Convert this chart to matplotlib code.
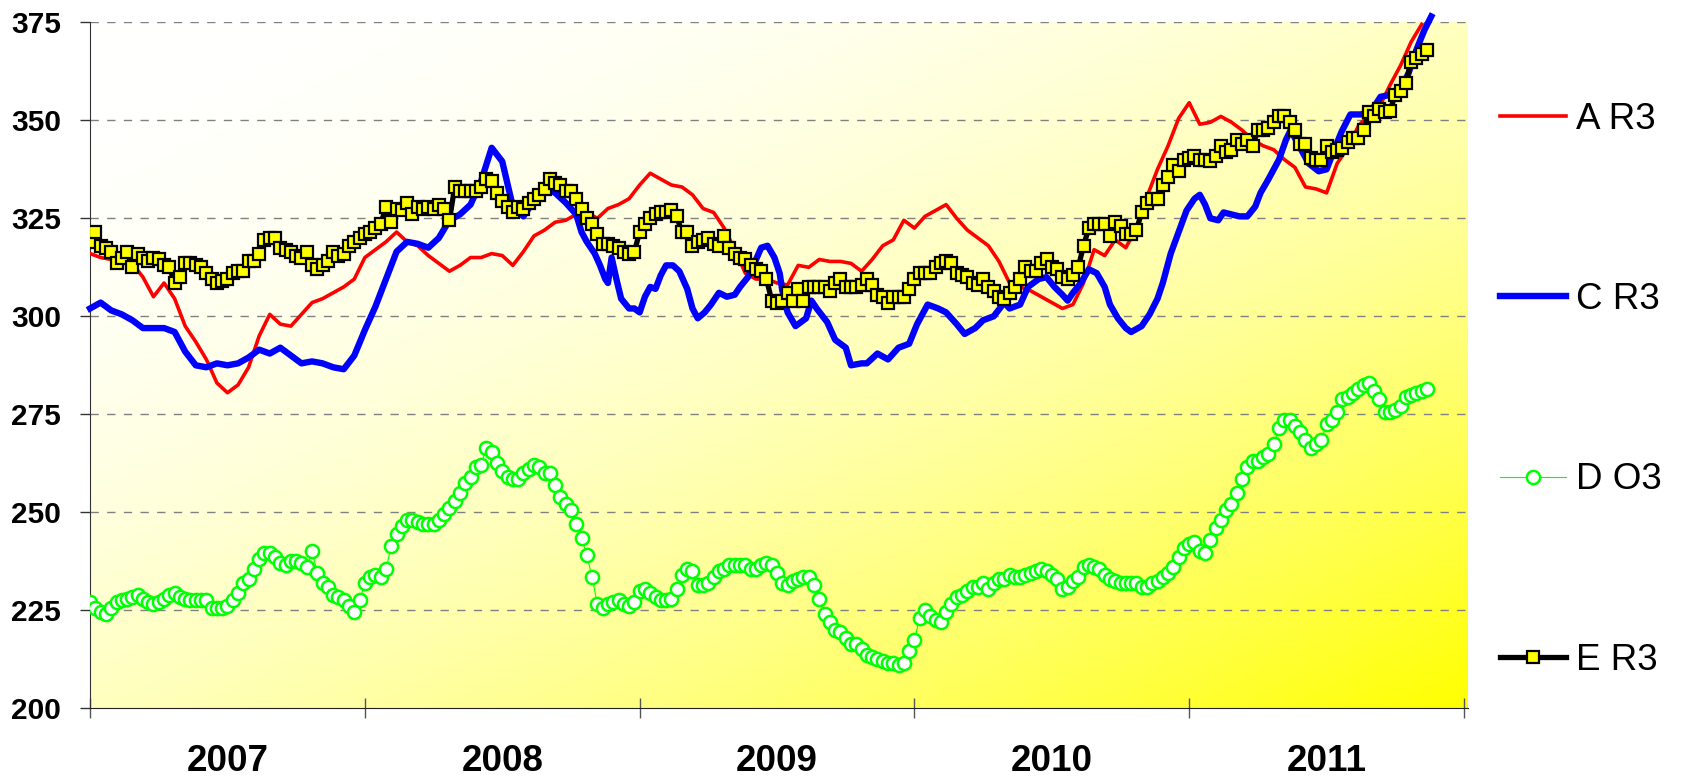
import numpy as np
import matplotlib
matplotlib.use('Agg')
import matplotlib.pyplot as plt

plt.rcParams['font.family'] = ['Liberation Sans', 'DejaVu Sans']

# weekly index, 52 weeks per year starting at first week of 2007
anos = ['2007', '2008', '2009', '2010', '2011']
semanasAno = 52

# A R3 - every second week
aSemanas = list(range(0, 253, 2))
aR3 = [316, 315, 314.5, 314, 313.5, 310, 305, 308.5, 304.5, 297.5, 293.5, 289, 283, 280.5, 282.5, 287, 295, 300.5, 298, 297.5, 300.5, 303.5,
       304.5, 306, 307.5, 309.5, 315, 317, 319, 321.5, 319, 318, 315.5, 313.5, 311.5, 313, 315, 315, 316, 315.5, 313, 316.5, 320.5, 322,
       324, 324.5, 326, 326.5, 325, 327.5, 328.5, 330, 333.5, 336.5, 335, 333.5, 333, 331, 327.5, 326.5, 322.5, 317, 311, 309.5, 309.5, 308.5,
       308, 313, 312.5, 314.5, 314, 314, 313.5, 311.5, 314.5, 318, 319.5, 324.5, 322.5, 325.5, 327, 328.5, 325, 322, 320, 318, 314, 308.5,
       307.5, 306.5, 305, 303.5, 302, 303, 308.5, 317, 315.5, 319.5, 317.5, 322.5, 330.5, 337.5, 343.5, 350.5, 354.5, 349, 349.5, 351, 349.5,
       347.5, 345, 343.5, 342.5, 340, 338, 333, 332.5, 331.5, 339, 343, 348.5, 351.5, 353.5, 359, 364, 370, 374.5]

# C R3 - irregular reading points (week, value)
cSemanas = [0, 2, 4, 6, 8, 10, 12, 14, 16, 18, 20, 22, 24, 26, 28, 30, 32, 34, 36, 38, 40, 42, 44, 46, 48, 50, 52, 54, 56, 58,
            60, 62, 64, 66, 68, 70, 72, 74, 76, 78, 80, 82, 84, 86, 88, 90, 92, 93, 94, 95.5, 96.5, 97.5, 98, 98.7, 99.6, 100.5,
            102, 103, 104, 105, 106, 107, 108, 109, 110.3, 111.5, 113, 114, 115, 116.3, 117.5, 119, 120.5, 122, 123, 124.5, 125.7,
            127, 128.2, 129.5, 130.5, 131, 132, 133.5, 135.5, 136.5, 137.5, 139.5, 141, 143, 144, 146, 147, 149, 151, 153, 155,
            156.5, 158.5, 160.5, 162, 164, 165.5, 167.5, 169, 171, 173, 174, 176, 177.5, 179.5, 181, 182.5, 184, 185, 186, 187.5,
            189, 190.5, 192, 193, 194.5, 196, 197, 199, 200.5, 202, 203, 204.5, 206, 207.5, 209, 210, 211, 212, 213.5, 214.5, 216,
            217.5, 219, 220.5, 221.5, 223, 225, 226.3, 227.2, 229, 230.6, 232.5, 234, 235.3, 236.8, 238.5, 240.5, 242.5, 244.2,
            246, 248, 249.5, 251, 252.5, 253.8]
cR3 = [302, 303.5, 301.5, 300.5, 299, 297, 297, 297, 296, 291, 287.5, 287, 288, 287.5, 288, 289.5, 291.5, 290.5, 292, 290, 288, 288.5,
       288, 287, 286.5, 290, 296.5, 302.5, 309.5, 316.5, 319, 318.5, 317.5, 320, 324.5, 326, 328.5, 334.5, 343, 339.5, 328, 325.5, 329.5,
       333, 331.5, 329, 326, 321.5, 319, 316, 313, 309.5, 308.5, 315, 309.5, 304.5, 302, 302, 301, 305, 307.5, 307, 310.5, 313, 313,
       311.5, 307, 302, 299.5, 301, 303, 306, 305, 305.5, 307.5, 310, 313.5, 317.5, 318, 315, 311, 306.5, 301, 297.5, 299.5, 304, 302,
       298.5, 294, 292, 287.5, 288, 288, 290.5, 289, 292, 293, 298, 303, 302, 301, 298, 295.5, 297, 299, 300, 303.5, 302, 303, 307.5,
       309.5, 310, 307.5, 305.5, 304, 306, 308.5, 312, 311, 307.5, 303, 299.5, 297, 296, 297.5, 300.5, 304.5, 308.5, 316, 321.5, 327,
       330, 331, 328.5, 325, 324.5, 326.5, 326, 325.5, 325.5, 328, 331.5, 335, 340, 345, 347.5, 343, 339, 337, 337.5, 342, 347, 351.5,
       351.5, 352.5, 356, 356.5, 358, 362, 368, 373, 376.5]

# D O3 - weekly
dO3 = [227, 225.5, 224.5, 224, 225.5, 227, 227.5, 228, 228.5, 229, 228, 227, 226.5, 227, 228, 229, 229.5, 228.5, 228, 227.5,
       227.5, 227.5, 227.5, 225.5, 225.5, 225.5, 226, 227.5, 229.5, 232, 233, 235.5, 238, 239.5, 239.5, 238.5, 237, 236.5, 237.5,
       237.5, 237, 236, 240, 234.5, 232, 231, 229, 228.5, 227.5, 226, 224.5, 227.5, 232, 233.5, 234, 233.5, 235.5,
       241.5, 244.5, 246.5, 248, 248, 247.5, 247, 247, 247, 248, 249.5, 251, 253, 255, 257.5, 259, 261.5, 262, 266.5, 265.5,
       262.5, 260.5, 259, 258.5, 258.5, 260, 261, 262, 261.5, 260,
       260, 257, 254, 252, 250.5, 247, 243.5, 239, 233.5, 226.5, 225.5, 226.5, 227, 227.5, 226.5, 226, 227, 230, 230.5, 229.5,
       228.5, 227.5, 227.5, 228, 230.5, 234, 235.5, 235, 231.5, 231.5, 232, 233.5, 235, 235.5, 236.5, 236.5, 236.5, 236.5, 235.5,
       235.5, 236.5, 237, 236.5,
       234.5, 232, 231.5, 232.5, 233, 233.5, 233.5, 231.5, 228, 224, 222, 220, 219.5, 218, 216.5, 216.5, 215, 213.5, 213, 212.5,
       212, 211.5, 211.5, 211, 211.5, 214.5, 217.5, 223, 225, 223.5, 222.5, 222, 224.5, 226.5, 228.5, 229, 230, 231, 231, 232,
       230.5, 232, 233, 233,
       234, 233.5, 233.5, 234, 234.5, 235, 235.5, 235, 234, 233, 230.5, 231, 232.5, 233.5, 236, 236.5, 236, 235.5, 234, 233,
       232.5, 232, 232, 232, 232, 231, 231, 232, 232.5, 233.5, 234.5, 236, 238.5, 241, 242, 242.5, 240, 239.5, 243, 246, 248,
       250.5, 252, 255,
       258.5, 261.5, 263, 263, 264, 265, 267.5, 271.5, 273.5, 273.5, 272, 270.5, 268.5, 266.5, 267.5, 268.5, 272.5, 273.5,
       275.5, 279, 279.5, 280.5, 281.5, 282.5, 283, 281, 279, 275.5, 275.5, 276, 277, 279.5, 280, 280.5, 281, 281.5]

# E R3 - weekly
eR3 = [319, 321.5, 318, 317.5, 316.5, 313.5, 315, 316.5, 312.5, 316, 315, 314, 315, 314.5, 313, 312.5, 308.5, 310, 313.5, 313.5,
       313, 312.5, 311, 309.5, 308.5, 309, 309.5, 311, 311.5, 311.5, 314, 314, 316, 319.5, 320, 320, 317.5, 317, 316.5, 315.5,
       315, 316.5, 313, 312,
       313, 314, 316.5, 315.5, 316, 318, 319, 320, 321, 321.5, 322.5, 323.5, 328, 324, 327.5, 327, 329, 326, 328, 327.5, 328,
       327.5, 328.5, 327.5, 324.5, 333, 332, 332, 332, 332, 333, 335, 334.5, 331.5, 329.5, 328, 326.5, 328, 327.5, 329, 330,
       331, 332.5, 335,
       334, 333.5, 332, 332, 330, 327.5, 325, 323.5, 321, 318.5, 318.5, 318, 317.5, 316.5, 316, 316.5, 321.5, 323.5, 325, 326,
       326.5, 326.5, 327, 325.5, 321.5, 321.5, 318, 319, 319.5, 320, 318.5, 318, 320.5, 317.5, 316, 315, 314.5, 313, 312,
       311.5, 309.5, 304,
       303.5, 304, 306, 304, 307, 304, 307.5, 307.5, 307.5, 307.5, 306.5, 308.5, 309.5, 307.5, 307.5, 307.5, 308, 309.5, 308,
       305.5, 305, 303.5, 305, 305, 305, 307, 309.5, 311, 311, 311, 312.5, 313.5, 314, 313.5, 311, 310.5, 310, 308.5, 308,
       309.5, 307.5, 306.5, 305, 304.5,
       306, 307.5, 309.5, 312.5, 311.5, 311.5, 313.5, 314.5, 312.5, 312, 310, 309.5, 310.5, 312.5, 318, 322.5, 323.5, 323.5,
       323.5, 320.5, 324, 323, 321, 321, 322, 326.5, 329, 330, 330, 333.5, 335.5, 338.5, 337, 340, 340.5, 341, 340, 340,
       339.5, 341, 343.5, 342, 342.5, 345,
       344, 345, 343.5, 347.5, 347.5, 348, 349.5, 351, 351, 349.5, 347.5, 344, 344, 340.5, 340, 340, 343.5, 342, 342.5, 343,
       344.5, 345.5, 345.5, 347.5, 352, 351, 353, 352, 352.5, 356.5, 357.5, 359.5, 365, 366, 367, 368]

yTicks = [200, 225, 250, 275, 300, 325, 350, 375]

if __name__ == '__main__':

    fig = plt.figure(figsize=(16.87, 7.81), dpi=100)
    ax = fig.add_axes([0.0534, 0.0931, 0.8166, 0.8783])

    xMax = semanasAno * len(anos) + 0.7

    # fundo em degrade branco -> amarelo (diagonal)
    xx, yy = np.meshgrid(np.linspace(0, 1, 400), np.linspace(0, 1, 200))
    t = (xx + yy) / 2
    azul = 1 - t ** 2
    fundo = np.dstack([np.ones_like(t), np.ones_like(t), azul])
    ax.imshow(fundo, extent=[0, xMax, yTicks[0], yTicks[-1]], aspect='auto', origin='upper', zorder=0)

    for y in yTicks[1:]:
        ax.axhline(y, color='#808080', lw=1.0, ls=(0, (6, 6)), zorder=1)

    ax.plot(aSemanas, aR3, color='#FF0000', lw=2.6, label='A R3', zorder=3)
    ax.plot(cSemanas, cR3, color='#0000FF', lw=4.6, label='C R3', zorder=4, clip_on=False)
    ax.plot(np.arange(len(dO3)), dO3, color='#00FF00', lw=0.8, marker='o', markersize=9.5,
            markerfacecolor='white', markeredgecolor='#00FF00', markeredgewidth=1.8, label='D O3', zorder=5)
    ax.plot(np.arange(len(eR3)), eR3, color='black', lw=3.8, marker='s', markersize=9.3,
            markerfacecolor='#FFFF00', markeredgecolor='black', markeredgewidth=1.6, label='E R3', zorder=6)

    ax.set_xlim(0, xMax)
    ax.set_ylim(yTicks[0], yTicks[-1])

    ax.set_yticks(yTicks)
    ax.tick_params(axis='y', direction='out', length=7, width=1, color='#333333', pad=14,
                   labelsize=21.5)
    for lbl in ax.get_yticklabels():
        lbl.set_fontweight('bold')

    ax.set_xticks([semanasAno * i for i in range(len(anos) + 1)])
    ax.set_xticklabels([])
    ax.set_xticks([semanasAno * i + semanasAno / 2 for i in range(len(anos))], minor=True)
    ax.set_xticklabels(anos, minor=True, fontsize=26.5, fontweight='bold')
    ax.tick_params(axis='x', which='major', direction='inout', length=14, width=1, color='#555555')
    ax.tick_params(axis='x', which='minor', length=0, pad=26)

    ax.spines['top'].set_visible(False)
    ax.spines['right'].set_visible(False)
    ax.spines['left'].set_color('#333333')
    ax.spines['bottom'].set_color('#222222')

    fig.legend(loc='center left', bbox_to_anchor=(0.889, 0.501), frameon=False, fontsize=26.5,
               handlelength=1.8, handletextpad=0.28, labelspacing=3.95, borderpad=0, borderaxespad=0)

    plt.savefig('out.png', dpi=100)
